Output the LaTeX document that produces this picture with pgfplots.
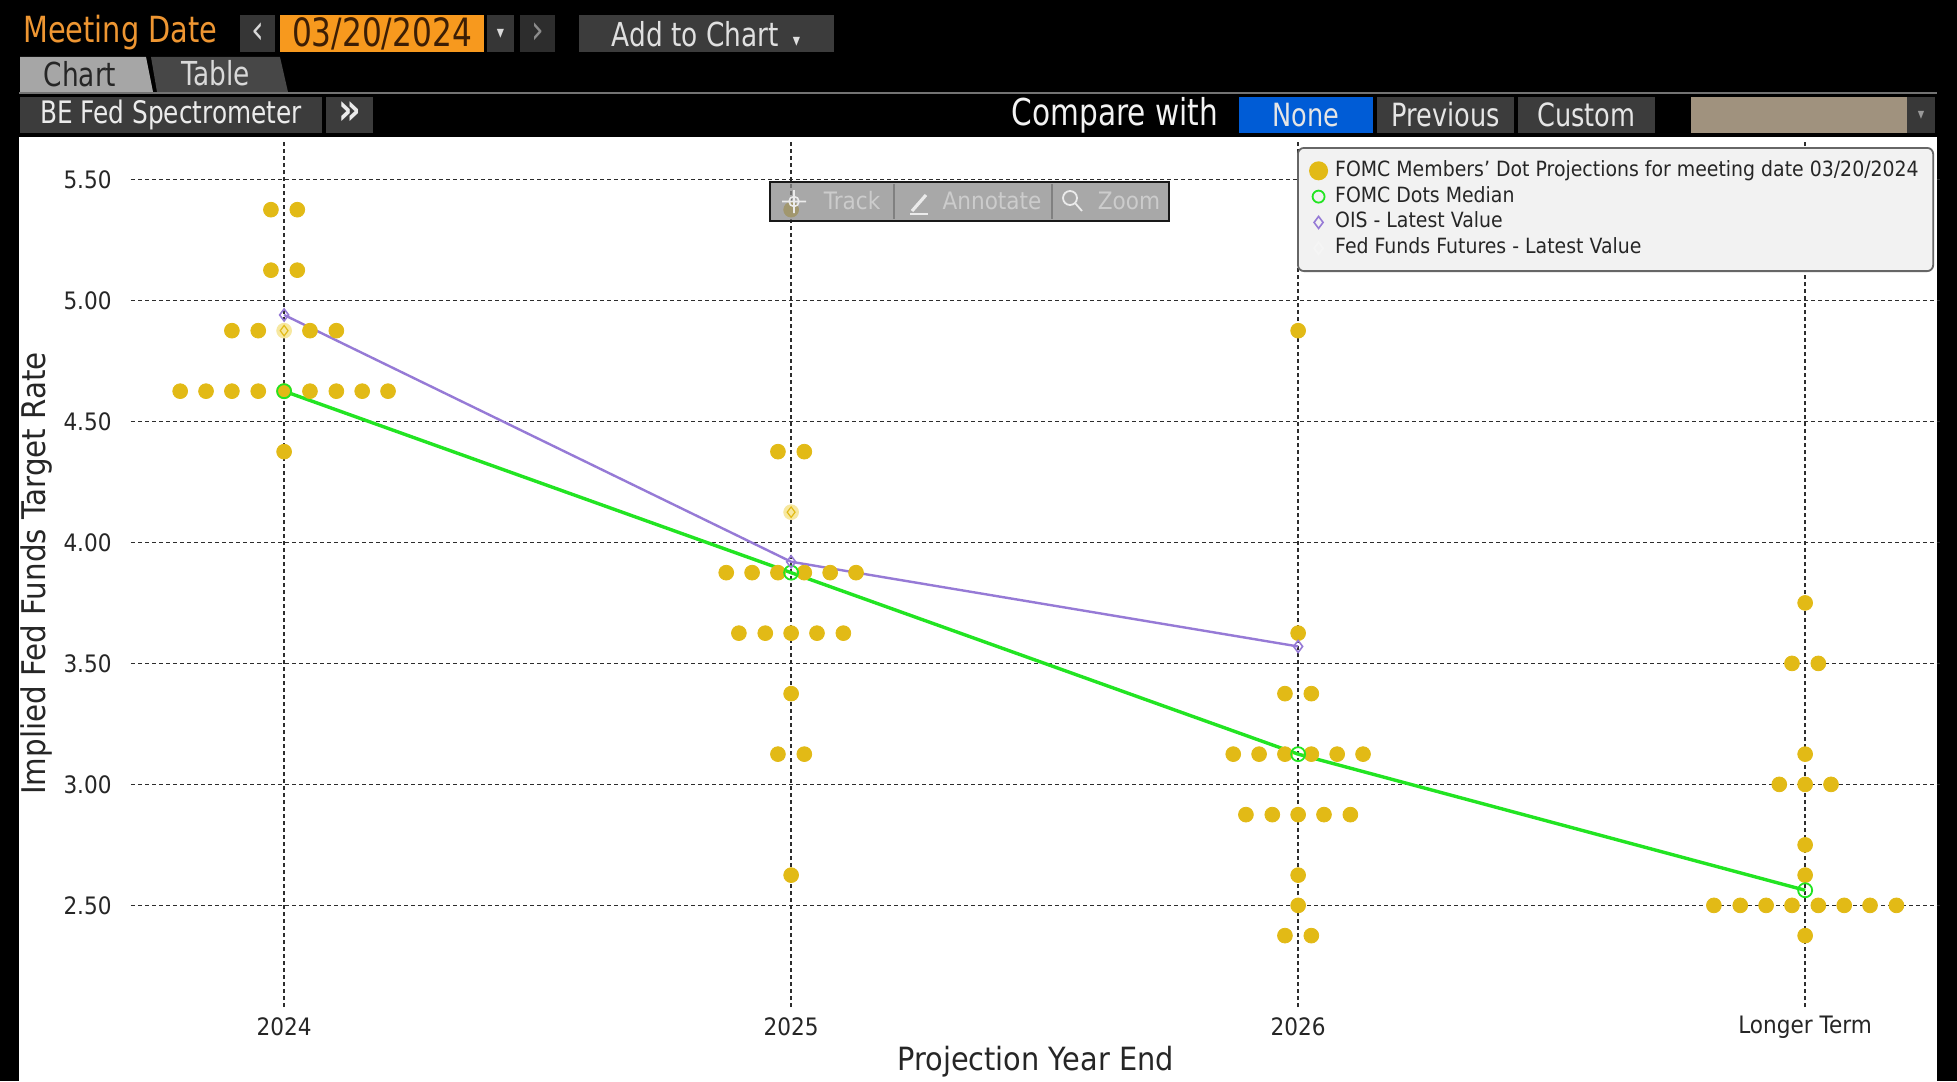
\documentclass[border=0pt]{standalone}
\usepackage{pgfplots}
\pgfplotsset{compat=1.18}
\usepackage{fontspec}
\setmainfont{DejaVu Sans}[FakeStretch=0.9]
\newfontfamily\uifont{DejaVu Sans}[FakeStretch=0.8]
\newcommand\ui[1]{\uifont\fontsize{#1}{#1}\selectfont}

\definecolor{dotyellow}{RGB}{226,186,22}
\definecolor{paleyellow}{RGB}{247,232,160}
\definecolor{mediangreen}{RGB}{34,228,34}
\definecolor{oispurple}{RGB}{150,122,214}
\definecolor{bbgorange}{RGB}{247,153,30}
\definecolor{bbgtext}{RGB}{238,150,50}
\definecolor{btngray}{RGB}{60,60,60}
\definecolor{bbgblue}{RGB}{0,92,214}
\definecolor{tanbox}{RGB}{160,146,126}
\definecolor{gridc}{RGB}{45,45,45}

\begin{document}
\begin{tikzpicture}
% ---- terminal frame and header (pixel units, y downwards)
\begin{scope}[x=0.5pt,y=-0.5pt]
\fill[black] (0,0) rectangle (1957,1081);
\node[text=bbgtext, anchor=west, inner sep=0] at (23,33) {\ui{18}Meeting Date};
\fill[btngray!90!black] (240,15) rectangle (275,52);
\node[text=white!85!black, inner sep=0] at (257.5,33) {\ui{20}‹};
\fill[bbgorange] (280,15) rectangle (484,52);
\node[text={rgb,255:red,60;green,30;blue,5}, inner sep=0] at (382,34) {\ui{19.5}03/20/2024};
\fill[btngray!90!black] (487,15) rectangle (514,52);
\node[text=white!85!black, inner sep=0] at (500.5,34) {\ui{9}▾};
\fill[btngray!75!black] (520,15) rectangle (555,52);
\node[text=black!45, inner sep=0] at (537.5,33) {\ui{20}›};
\fill[btngray] (579,15) rectangle (834,52);
\node[text=white!88!black, inner sep=0] at (706,34) {\ui{16.5}Add to Chart\hspace{7pt}{\fontsize{9}{9}\selectfont ▾}};
% tabs
\fill[black!35] (20,57) -- (146,57) -- (153,92) -- (20,92) -- cycle;
\fill[black!72] (151,57) -- (280,57) -- (288,92) -- (157,92) -- cycle;
\node[text=black!85, inner sep=0] at (80,74) {\ui{16.5}Chart};
\node[text=white!85!black, inner sep=0] at (216,73) {\ui{16.5}Table};
\draw[black!55, line width=1pt] (19,93.5) -- (1937,93.5);
% row 3
\fill[btngray] (20,97) rectangle (322,133);
\node[text=white!92!black, inner sep=0] at (171,115) {\ui{15.5}BE Fed Spectrometer};
\fill[btngray] (326,97) rectangle (373,133);
\node[text=white!92!black, inner sep=0] at (349.5,113) {\ui{22}\bfseries »};
\node[text=white!95!black, inner sep=0] at (1115,115) {\ui{18.5}Compare with};
\fill[bbgblue] (1239,97) rectangle (1373,133);
\node[text=white!90!black, inner sep=0] at (1306,115) {\ui{16}None};
\fill[btngray] (1377,97) rectangle (1514,133);
\node[text=white!90!black, inner sep=0] at (1445.5,115) {\ui{16}Previous};
\fill[btngray] (1518,97) rectangle (1655,133);
\node[text=white!90!black, inner sep=0] at (1586.5,115) {\ui{16}Custom};
\fill[tanbox] (1691,97) rectangle (1907,133);
\fill[black!78] (1907,97) rectangle (1935,133);
\node[text=black!40, inner sep=0] at (1921,115) {\ui{8}▾};
% chart panel
\fill[white] (19,137) rectangle (1937,1081);
\end{scope}

\begin{axis}[
  at={(65.5pt,-503.5pt)}, anchor=south west,
  width=904.5pt, height=433.5pt, scale only axis,
  xmin=-0.302, xmax=3.266, ymin=2.08, ymax=5.663,
  axis line style={draw=none},
  major tick length=0pt, tick style={draw=none},
  xtick={0,1,2,3}, xticklabels={2024,2025,2026,Longer Term},
  ytick={2.5,3,3.5,4,4.5,5,5.5},
  /pgf/number format/assume math mode=true,
  yticklabel style={/pgf/number format/fixed, /pgf/number format/fixed zerofill,
    /pgf/number format/precision=2, anchor=east, inner sep=0pt, xshift=-9.5pt},
  xticklabel style={anchor=center, inner sep=0pt, yshift=-10pt},
  ticklabel style={font=\fontsize{12}{14}\selectfont, text=black!85},
  grid=major,
  grid style={gridc, line width=0.8pt, dash pattern=on 2pt off 1.5pt},
  xlabel={Projection Year End},
  ylabel={Implied Fed Funds Target Rate},
  every axis x label/.style={at={(axis description cs:0.5,-0.0634)}, anchor=center,
    font=\fontsize{16}{18}\selectfont, text=black!85},
  every axis y label/.style={at={(axis description cs:-0.052,0.5)}, rotate=90, anchor=center,
    font=\fontsize{16.3}{18}\selectfont, text=black!85},
  legend style={at={(0.9967,0.9919)}, anchor=north east,
    draw=black!60, line width=0.9pt, fill=black!5, rounded corners=3pt,
    font=\fontsize{10.5}{12}\selectfont, text=black!85,
    inner xsep=6pt, inner ysep=5pt, row sep=0pt,
    nodes={inner sep=1.2pt, text height=8pt, text depth=2.5pt},
    /tikz/every odd column/.append style={column sep=2.8pt}},
  legend cell align=left,
  legend image code/.code={\draw[#1] plot coordinates {(0pt,0pt)};},
]

% FOMC members' dots
\addplot[only marks, mark=*, mark size=3.7pt, color=dotyellow, forget plot] coordinates {
(-0.026,5.375) (0.026,5.375)
(-0.026,5.125) (0.026,5.125)
(-0.103,4.875) (-0.051,4.875) (0.051,4.875) (0.103,4.875)
(-0.205,4.625) (-0.154,4.625) (-0.103,4.625) (-0.051,4.625) (0,4.625)
(0.051,4.625) (0.103,4.625) (0.154,4.625) (0.205,4.625)
(0,4.375)
(1,5.375)
(0.974,4.375) (1.026,4.375)
(0.872,3.875) (0.923,3.875) (0.974,3.875) (1.026,3.875) (1.077,3.875) (1.128,3.875)
(0.897,3.625) (0.949,3.625) (1,3.625) (1.051,3.625) (1.103,3.625)
(1,3.375)
(0.974,3.125) (1.026,3.125)
(1,2.625)
(2,4.875)
(2,3.625)
(1.974,3.375) (2.026,3.375)
(1.872,3.125) (1.923,3.125) (1.974,3.125) (2.026,3.125) (2.077,3.125) (2.128,3.125)
(1.897,2.875) (1.949,2.875) (2,2.875) (2.051,2.875) (2.103,2.875)
(2,2.625) (2,2.5)
(1.974,2.375) (2.026,2.375)
(3,3.75)
(2.974,3.5) (3.026,3.5)
(3,3.125)
(2.949,3.0) (3,3.0) (3.051,3.0)
(3,2.75) (3,2.625)
(2.82,2.5) (2.872,2.5) (2.923,2.5) (2.974,2.5) (3.026,2.5) (3.077,2.5) (3.128,2.5) (3.18,2.5)
(3,2.375)
};
% highlighted dots
\addplot[only marks, mark=*, mark size=3.7pt, color=paleyellow, forget plot]
  coordinates {(0,4.875) (1,4.125)};
\addplot[only marks, mark=diamond, mark size=2.6pt, color=dotyellow,
  mark options={line width=0.6pt, fill=none}, forget plot]
  coordinates {(0,4.875) (1,4.125)};

% FOMC dots median
\addplot[mediangreen, line width=1.7pt, mark=o, mark size=3.5pt,
  mark options={line width=0.9pt, fill=none}, forget plot]
  coordinates {(0,4.625) (1,3.875) (2,3.125) (3,2.5625)};
% OIS latest value
\addplot[oispurple, line width=1.2pt, mark=diamond, mark size=3pt,
  mark options={line width=0.8pt, fill=none}, forget plot]
  coordinates {(0,4.94) (1,3.92) (2,3.57)};

\addlegendimage{only marks, mark=*, mark size=4.3pt, color=dotyellow}
\addlegendentry{FOMC Members' Dot Projections for meeting date 03/20/2024}
\addlegendimage{only marks, mark=o, mark size=3pt, mediangreen, mark options={line width=0.9pt}}
\addlegendentry{FOMC Dots Median}
\addlegendimage{only marks, mark=diamond, mark size=3pt, oispurple, mark options={line width=0.8pt}}
\addlegendentry{OIS - Latest Value}
\addlegendimage{only marks, mark=diamond, mark size=3pt, white!96!black}
\addlegendentry{Fed Funds Futures - Latest Value}
\end{axis}

% chart toolbar overlay
\begin{scope}[x=0.5pt,y=-0.5pt]
\fill[black!45, fill opacity=0.75] (770,182) rectangle (1169,221);
\draw[black!50, line width=0.6pt] (894,184) -- (894,219) (1052,184) -- (1052,219);
\draw[black!90, line width=1.1pt] (770,182) rectangle (1169,221);
\draw[white!92!black, line width=0.8pt] (794,201.5) circle (5) (782,201.5) -- (806,201.5) (794,190) -- (794,213);
\node[text=white!80!black, inner sep=0] at (852,201) {\fontsize{12}{12}\selectfont Track};
\draw[white!92!black, line width=1.6pt] (912,211) -- (926,195);
\draw[white!92!black, line width=1pt] (910,214) -- (928,214);
\node[text=white!80!black, inner sep=0] at (992,201) {\fontsize{12}{12}\selectfont Annotate};
\draw[white!92!black, line width=0.9pt] (1070,198) circle (7) (1075,203) -- (1082,211);
\node[text=white!80!black, inner sep=0] at (1129,201) {\fontsize{12}{12}\selectfont Zoom};
\end{scope}
\pgfresetboundingbox
\useasboundingbox (0,0) rectangle (978.5pt,-540.5pt);
\end{tikzpicture}
\end{document}
